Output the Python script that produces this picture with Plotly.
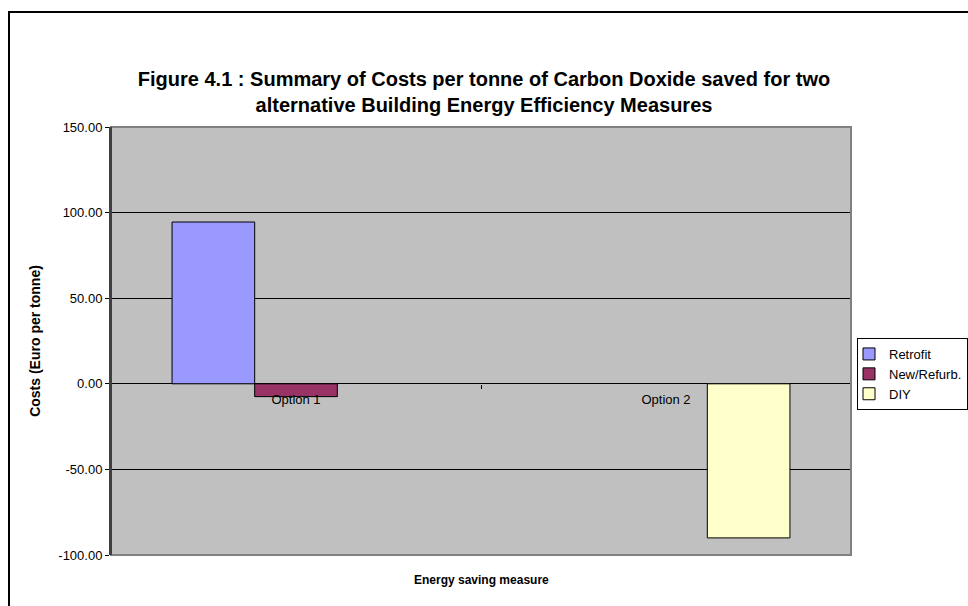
import plotly.graph_objects as go

categories = ["Option 1", "Option 2"]
series_names = ["Retrofit", "New/Refurb.", "DIY"]
retrofit = [94.5, None]
new_refurb = [-7.5, None]
diy = [None, -90.0]
colors = ["#9999FF", "#993366", "#FFFFCC"]
y_tick_values = [-100, -50, 0, 50, 100, 150]
y_tick_labels = ["-100.00", "-50.00", "0.00", "50.00", "100.00", "150.00"]

title_text = "<b>Figure 4.1 : Summary of Costs per tonne of Carbon Doxide saved for two<br>alternative Building Energy Efficiency Measures</b>"
y_title = "<b>Costs (Euro per tonne)</b>"
x_title = "<b>Energy saving measure</b>"

FONT = "Liberation Sans, Arial, sans-serif"

fig = go.Figure()
for name, vals, col in zip(series_names, [retrofit, new_refurb, diy], colors):
    fig.add_trace(go.Bar(
        x=categories, y=vals, name=name,
        marker=dict(color=col, line=dict(color="black", width=1)),
    ))

L, R, T, B = 111, 117, 127, 51
W, H = 968, 606
pw = W - L - R
ph = H - T - B

def px_x(p):
    return (p - L) / pw

def px_y(p):
    return (H - B - p) / ph

fig.update_layout(
    width=W, height=H,
    margin=dict(l=L, r=R, t=T, b=B, autoexpand=False),
    paper_bgcolor="white",
    plot_bgcolor="#C0C0C0",
    barmode="group",
    bargap=0.33,
    bargroupgap=0,
    font=dict(family=FONT, size=13, color="black"),
    title=dict(text=title_text, x=0.5, xref="container", xanchor="center",
               y=1 - 86 / H, yanchor="top", yref="container",
               font=dict(family=FONT, size=20, color="black")),
    showlegend=True,
    legend=dict(x=px_x(857), y=px_y(338), xanchor="left", yanchor="top",
                bgcolor="white", bordercolor="black", borderwidth=1,
                font=dict(family=FONT, size=13, color="black"),
                tracegroupgap=0, itemwidth=30, indentation=-9,
                entrywidth=130, entrywidthmode="pixels"),
    xaxis=dict(
        type="category", anchor="free", position=100 / 250,
        showgrid=False, showline=False, zeroline=False,
        ticks="outside", ticklen=4, tickcolor="black", tickson="boundaries",
        ticklabelstandoff=6,
        tickfont=dict(family=FONT, size=13, color="black"),
        range=[-0.5, 1.5],
    ),
    yaxis=dict(
        range=[-100, 150], tickmode="array",
        tickvals=y_tick_values, ticktext=y_tick_labels,
        showgrid=True, gridcolor="black", gridwidth=1,
        zeroline=True, zerolinecolor="black", zerolinewidth=1,
        showline=True, linecolor="#404040", linewidth=2,
        ticks="outside", ticklen=4, tickcolor="black",
        tickfont=dict(family=FONT, size=13, color="black"),
        title=dict(text=y_title, standoff=14,
                   font=dict(family=FONT, size=14, color="black")),
    ),
    shapes=[
        dict(type="rect", xref="paper", yref="paper", x0=0, x1=1, y0=0, y1=1,
             line=dict(color="#808080", width=2), layer="above"),
        dict(type="line", xref="paper", yref="paper", x0=0, x1=0, y0=0, y1=1,
             line=dict(color="#404040", width=2), layer="above"),
        dict(type="rect", xref="paper", yref="paper",
             x0=px_x(9), x1=px_x(990), y0=px_y(12), y1=px_y(640),
             line=dict(color="black", width=2), layer="below"),
    ],
    annotations=[
        dict(text=x_title, xref="paper", yref="paper", x=px_x(481), y=px_y(580),
             xanchor="center", yanchor="middle", showarrow=False,
             font=dict(family=FONT, size=12, color="black")),
    ],
)

fig.write_html("out.html")
